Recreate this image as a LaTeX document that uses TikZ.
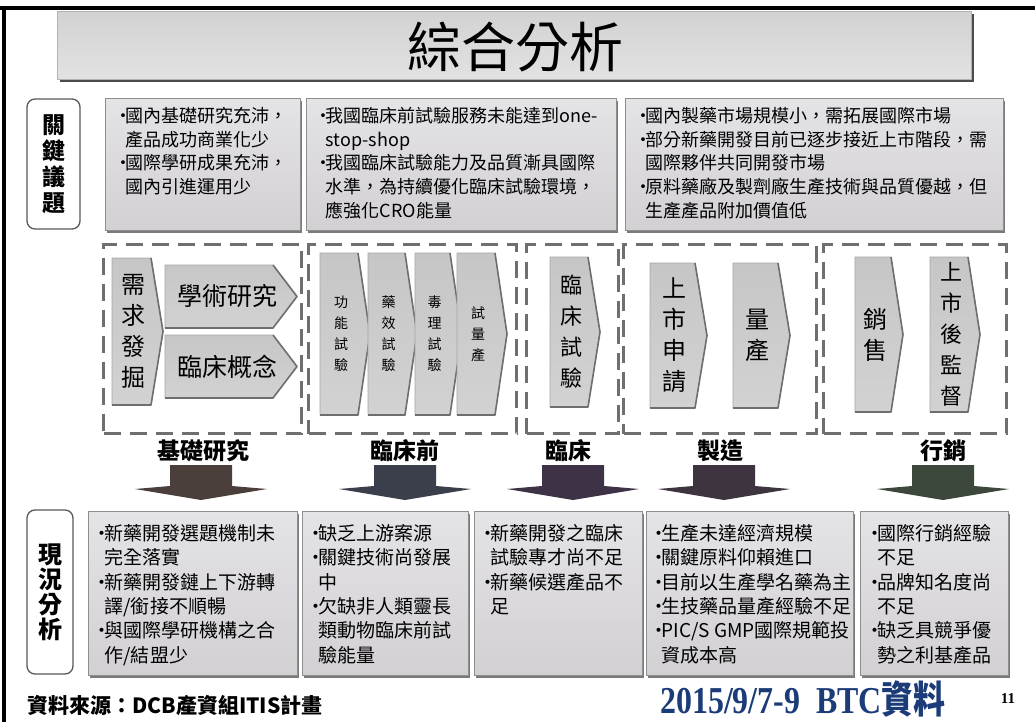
\documentclass[tikz,border=0pt]{standalone}
\usepackage{fontspec}
\usepackage{graphicx}
\setmainfont{Noto Sans CJK TC}
\newfontfamily\tnr{Liberation Serif}
\definecolor{boxline}{HTML}{8E8E8E}
\definecolor{boxtop}{HTML}{E4E3E6}
\definecolor{boxbot}{HTML}{D3D0D4}
\definecolor{chevtop}{HTML}{C6C6C6}
\definecolor{chevbot}{HTML}{D2D2D2}
\definecolor{chevedge}{HTML}{6E6E6E}
\definecolor{dashcol}{HTML}{6F6F6F}
\definecolor{shadowcol}{HTML}{7A7A7A}
\definecolor{bantop}{HTML}{D2D2D2}
\definecolor{banbot}{HTML}{E2E2E2}
\definecolor{arrA}{HTML}{4A3F3A}
\definecolor{arrB}{HTML}{3B3E4B}
\definecolor{arrC}{HTML}{3E3346}
\definecolor{arrD}{HTML}{3E3440}
\definecolor{arrE}{HTML}{3C483B}
\definecolor{datecol}{HTML}{1B3C78}
\newcommand{\bu}{\makebox[0.65em][l]{•}}
\newcommand{\ind}{\hspace*{0.65em}}
\newcommand{\chev}[8]{%
  \path[chevfill] (#2,#3) -- ({#4-#6},#3) -- (#4,{(#3+#5)/2}) -- ({#4-#6},#5) -- (#2,#5) -- cycle;
  \draw[chevrim] ({#4-#6},#3) -- (#4,{(#3+#5)/2}) -- ({#4-#6},#5) -- (#2,#5);
  \node[#7] (#1) at ({(#2+#4)/2-4},{(#3+#5)/2}) {#8};}
\newcommand{\downarr}[3]{%
  \fill[#3] ({#2-31},465) -- ({#2+31},465) -- ({#2+31},486) -- ({#2+66},489) -- (#2,500) -- ({#2-66},489) -- ({#2-31},486) -- cycle;
  \coordinate (#1) at (#2,482);}
\tikzset{
  banner/.style={draw=gray!60, line width=0.6pt, top color=bantop, bottom color=banbot,
    preaction={fill=black!70, transform canvas={xshift=3pt,yshift=-3pt}}},
  keybox/.style={draw=boxline, line width=1.2pt, top color=boxtop, bottom color=boxbot,
    preaction={fill=shadowcol, transform canvas={xshift=1.5pt,yshift=-2.5pt}}},
  labelbox/.style={draw=black!65, line width=1.3pt, rounded corners=8pt, fill=white, align=center,
    font=\bfseries\fontsize{23}{26}\selectfont, inner sep=0pt},
  keytext/.style={align=left, inner sep=0pt, font=\fontsize{18}{23.7}\selectfont, anchor=north west},
  bottext/.style={align=left, inner sep=0pt, font=\fontsize{19}{24.4}\selectfont, anchor=north west},
  dashbox/.style={draw=dashcol, line width=3pt, dash pattern=on 17pt off 9pt, inner sep=0pt},
  chevfill/.style={top color=chevtop, bottom color=chevbot, draw=black!35, line width=0.6pt},
  chevrim/.style={draw=chevedge, line width=1.6pt, line join=round},
  bigv/.style={align=center, inner sep=0pt, font=\fontsize{24}{31}\selectfont},
  midv/.style={align=center, inner sep=0pt, font=\fontsize{22}{31}\selectfont},
  smallv/.style={align=center, inner sep=0pt, font=\fontsize{14}{21}\selectfont},
  hortext/.style={inner sep=0pt, font=\fontsize{25}{25}\selectfont},
  stagelabel/.style={inner sep=0pt, font=\bfseries\fontsize{23}{23}\selectfont},
}
\begin{document}
\begin{tikzpicture}[x=1pt,y=-1pt]
\useasboundingbox (0,0) rectangle (1035,722);
\fill[white] (0,0) rectangle (1035,722);
% frame
\draw[line width=4pt] (0,8) -- (1035,8);
\draw[line width=4pt] (4,8) -- (4,722);
% title banner
\node[banner, minimum width=914, minimum height=68, anchor=north west] (ban) at (57,11) {};
\node[inner sep=0pt, font=\fontsize{54}{54}\selectfont] (title) at (515,47) {綜合分析};
% key issues
\node[labelbox, minimum width=53, minimum height=130] (kl) at (53.5,164) {關\\鍵\\議\\題};
\node[keybox, minimum width=195, minimum height=132, anchor=north west] (k1) at (105,98) {};
\node[keybox, minimum width=310, minimum height=132, anchor=north west] (k2) at (306,98) {};
\node[keybox, minimum width=378, minimum height=132, anchor=north west] (k3) at (625,98) {};
\node[keytext] (k1t) at (114,107) {\bu 國內基礎研究充沛，\\\ind 產品成功商業化少\\\bu 國際學研成果充沛，\\\ind 國內引進運用少};
\node[keytext] (k2t) at (314,107) {\bu 我國臨床前試驗服務未能達到one-\\\ind stop-shop\\\bu 我國臨床試驗能力及品質漸具國際\\\ind 水準，為持續優化臨床試驗環境，\\\ind 應強化CRO能量};
\node[keytext] (k3t) at (634,107) {\bu 國內製藥市場規模小，需拓展國際市場\\\bu 部分新藥開發目前已逐步接近上市階段，需\\\ind 國際夥伴共同開發市場\\\bu 原料藥廠及製劑廠生產技術與品質優越，但\\\ind 生產產品附加價值低};
% dashed stage boxes
\node[dashbox, minimum width=198, minimum height=189, anchor=north west] (d1) at (102,243) {};
\node[dashbox, minimum width=208, minimum height=189, anchor=north west] (d2) at (307,243) {};
\node[dashbox, minimum width=92, minimum height=189, anchor=north west] (d3) at (525,243) {};
\node[dashbox, minimum width=193, minimum height=189, anchor=north west] (d4) at (622,243) {};
\node[dashbox, minimum width=183, minimum height=189, anchor=north west] (d5) at (822,243) {};
% chevrons
\chev{c1}{112}{258}{163}{405}{12}{bigv}{需\\求\\發\\掘}
\chev{c2}{165}{265}{297}{328}{24}{hortext}{學術研究}
\chev{c3}{165}{335}{297}{398}{24}{hortext}{臨床概念}
\chev{c4}{320}{253}{370}{415}{12}{smallv}{功\\能\\試\\驗}
\chev{c5}{368}{253}{417}{415}{12}{smallv}{藥\\效\\試\\驗}
\chev{c6}{415}{253}{462}{415}{12}{smallv}{毒\\理\\試\\驗}
\chev{c7}{457}{253}{507}{415}{12}{smallv}{試\\量\\產}
\chev{c8}{550}{257}{600}{407}{12}{midv}{臨\\床\\試\\驗}
\chev{c9}{650}{263}{707}{408}{12}{bigv}{上\\市\\申\\請}
\chev{c10}{733}{263}{790}{408}{12}{bigv}{量\\產}
\chev{c11}{855}{257}{903}{412}{12}{bigv}{銷\\售}
\chev{c12}{930}{257}{980}{412}{12}{midv}{上\\市\\後\\監\\督}
% stage labels
\node[stagelabel] (s1) at (203,451) {基礎研究};
\node[stagelabel] (s2) at (405,451) {臨床前};
\node[stagelabel] (s3) at (568,451) {臨床};
\node[stagelabel] (s4) at (720,451) {製造};
\node[stagelabel] (s5) at (943,451) {行銷};
% down arrows
\downarr{a1}{201}{arrA}
\downarr{a2}{405}{arrB}
\downarr{a3}{573}{arrC}
\downarr{a4}{724}{arrD}
\downarr{a5}{943}{arrE}
% current analysis
\node[labelbox, minimum width=46, minimum height=164, font=\bfseries\fontsize{24}{25}\selectfont] (bl) at (50,592) {現\\況\\分\\析};
\node[keybox, minimum width=209, minimum height=164, anchor=north west] (b1) at (88,511) {};
\node[keybox, minimum width=166, minimum height=164, anchor=north west] (b2) at (302,511) {};
\node[keybox, minimum width=168, minimum height=164, anchor=north west] (b3) at (474,511) {};
\node[keybox, minimum width=207, minimum height=164, anchor=north west] (b4) at (646,511) {};
\node[keybox, minimum width=148, minimum height=164, anchor=north west] (b5) at (860,511) {};
\node[bottext] (b1t) at (92,524) {\bu 新藥開發選題機制未\\\ind 完全落實\\\bu 新藥開發鏈上下游轉\\\ind 譯/銜接不順暢\\\bu 與國際學研機構之合\\\ind 作/結盟少};
\node[bottext] (b2t) at (306,524) {\bu 缺乏上游案源\\\bu 關鍵技術尚發展\\\ind 中\\\bu 欠缺非人類靈長\\\ind 類動物臨床前試\\\ind 驗能量};
\node[bottext] (b3t) at (478,524) {\bu 新藥開發之臨床\\\ind 試驗專才尚不足\\\bu 新藥候選產品不\\\ind 足};
\node[bottext] (b4t) at (649,524) {\bu 生產未達經濟規模\\\bu 關鍵原料仰賴進口\\\bu 目前以生產學名藥為主\\\bu 生技藥品量產經驗不足\\\bu PIC/S GMP國際規範投\\\ind 資成本高};
\node[bottext] (b5t) at (865,524) {\bu 國際行銷經驗\\\ind 不足\\\bu 品牌知名度尚\\\ind 不足\\\bu 缺乏具競爭優\\\ind 勢之利基產品};
% footer
\node[anchor=west, inner sep=0pt, font=\bfseries\fontsize{21}{21}\selectfont] (src) at (27,706) {資料來源：DCB產資組ITIS計畫};
\node[anchor=west, inner sep=0pt, text=datecol, font=\bfseries\fontsize{38}{38}\selectfont] (date) at (660,699) {\scalebox{0.84}[1]{\tnr 2015/9/7-9\ \ BTC\rmfamily 資料}};
\node[inner sep=0pt, font=\tnr\bfseries\fontsize{15}{15}\selectfont] (pg) at (1008,699) {11};
\end{tikzpicture}
\end{document}
